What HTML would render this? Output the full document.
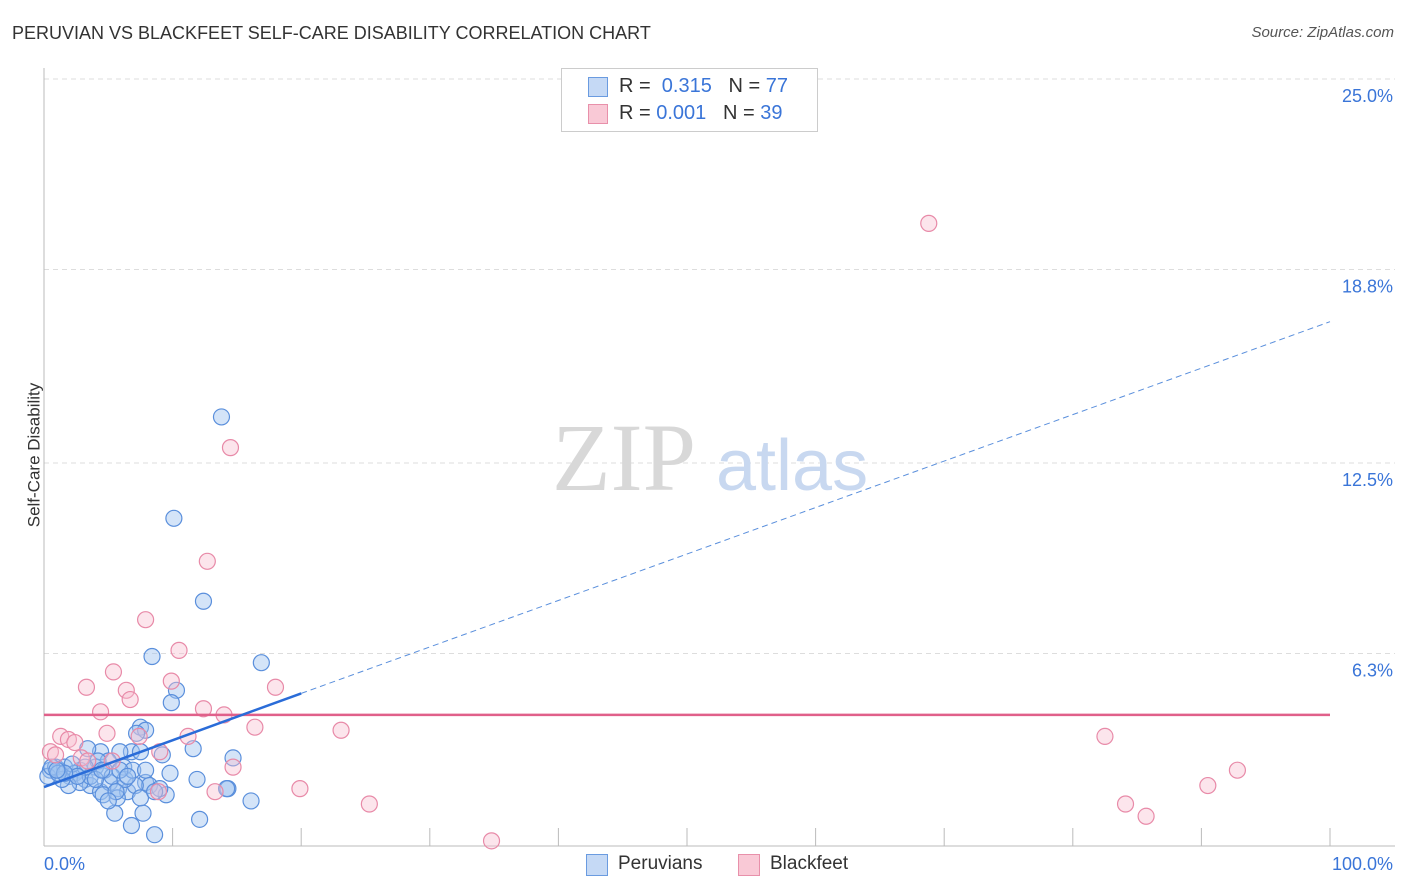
<!DOCTYPE html>
<html><head><meta charset="utf-8"><style>
body{margin:0;background:#fff;font-family:"Liberation Sans",sans-serif;}
#wrap{position:relative;width:1406px;height:892px;overflow:hidden}
.t{position:absolute;white-space:nowrap}
</style></head><body><div id="wrap">
<div class="t" style="left:12px;top:23px;font-size:18px;color:#333">PERUVIAN VS BLACKFEET SELF-CARE DISABILITY CORRELATION CHART</div>
<div class="t" style="right:12px;top:24px;font-size:15px;color:#555;font-style:italic">Source: ZipAtlas.com</div>
<div class="t" style="left:-38px;top:445px;font-size:17px;color:#333;transform:rotate(-90deg)">Self-Care Disability</div>
<svg id="svg" width="1406" height="892" style="position:absolute;left:0;top:0"></svg>
<div style="position:absolute;left:561px;top:68px;width:255px;height:62px;border:1px solid #ccc;background:#fff;font-size:20px">
<div style="position:absolute;left:26px;top:8px;width:18px;height:18px;background:#c5d9f5;border:1px solid #6a9be0"></div>
<div class="t" style="left:57px;top:6px;color:#333">R = <span style="color:#3a75d8">&nbsp;0.315</span> &nbsp;&nbsp;N = <span style="color:#3a75d8">77</span></div>
<div style="position:absolute;left:26px;top:35px;width:18px;height:18px;background:#f9c9d6;border:1px solid #e890aa"></div>
<div class="t" style="left:57px;top:33px;color:#333">R = <span style="color:#3a75d8">0.001</span> &nbsp;&nbsp;N = <span style="color:#3a75d8">39</span></div>
</div>
<div style="position:absolute;left:586px;top:852px;font-size:19px;color:#333">
<div style="position:absolute;left:0;top:2px;width:20px;height:20px;background:#c5d9f5;border:1px solid #6a9be0"></div>
<div class="t" style="left:32px;top:1px">Peruvians</div>
<div style="position:absolute;left:152px;top:2px;width:20px;height:20px;background:#f9c9d6;border:1px solid #e890aa"></div>
<div class="t" style="left:184px;top:1px">Blackfeet</div>
</div>
</div>
<script>
const yTicks=[25,18.8,12.5,6.3];
const yTickLabels=["25.0%","18.8%","12.5%","6.3%"];
const blueX=[13.8,10.1,12.4,8.4,16.9,10.3,9.9,7.5,7.9,7.2,11.6,9.2,6.8,14.7,9.8,11.9,14.3,14.2,16.1,9.5,7.9,8.2,9.0,12.1,7.7,6.8,5.5,8.6,6.2,5.9,4.4,3.4,5.0,4.0,2.8,2.0,1.2,0.5,0.9,1.6,2.4,3.2,3.6,4.4,5.1,5.8,6.5,7.1,4.6,5.7,7.5,8.6,4.2,4.7,5.3,2.8,1.9,3.6,6.3,6.9,1.4,0.3,0.6,2.2,5.6,5.0,4.0,3.2,2.6,1.1,1.6,4.5,5.9,6.5,7.9,1.0,7.5];
const blueY=[14.0,10.7,8.0,6.2,6.0,5.1,4.7,3.9,3.8,3.7,3.2,3.0,3.1,2.9,2.4,2.2,1.9,1.9,1.5,1.7,2.1,2.0,1.9,0.9,1.1,0.7,1.1,0.4,2.6,3.1,3.1,3.2,2.8,2.6,2.5,2.3,2.5,2.5,2.6,2.6,2.4,2.2,2.0,1.8,2.1,1.9,1.8,2.0,1.7,1.6,1.6,1.8,2.8,2.5,2.3,2.1,2.0,2.3,2.2,2.5,2.2,2.3,2.6,2.7,1.8,1.5,2.2,2.6,2.3,2.4,2.4,2.5,2.5,2.3,2.5,2.5,3.1];
const pinkX=[68.8,14.5,12.7,7.9,10.5,5.4,3.3,6.4,9.9,18.0,6.7,12.4,14.0,4.4,16.4,23.1,4.9,7.4,1.3,1.9,2.4,9.0,11.2,2.9,3.4,0.5,0.9,14.7,19.9,25.3,34.8,13.3,82.5,92.8,90.5,84.1,85.7,8.9,5.3];
const pinkY=[20.3,13.0,9.3,7.4,6.4,5.7,5.2,5.1,5.4,5.2,4.8,4.5,4.3,4.4,3.9,3.8,3.7,3.6,3.6,3.5,3.4,3.1,3.6,2.9,2.8,3.1,3.0,2.6,1.9,1.4,0.2,1.8,3.6,2.5,2.0,1.4,1.0,1.8,2.8];
const blueTrend=[[0,1.95],[20,5.0],[100,17.1]];
const pinkMean=4.3;
const X0=44,X1=1330,Y0=847,PPY=30.72;
const sx=v=>X0+(X1-X0)*v/100, sy=v=>Y0-v*PPY;
const svg=document.getElementById('svg');const NS='http://www.w3.org/2000/svg';
function mk(t,a,p){const e=document.createElementNS(NS,t);for(const k in a)e.setAttribute(k,a[k]);(p||svg).appendChild(e);return e;}
yTicks.forEach((v,i)=>{const l=mk('line',{x1:44,x2:1395,y1:sy(v),y2:sy(v),stroke:'#ddd','stroke-dasharray':'5,4'});


const t=mk('text',{x:1393,y:sy(v)+23,'text-anchor':'end','font-size':18,fill:'#3a75d8','font-family':'Liberation Sans,sans-serif'});t.textContent=yTickLabels[i];

});
const ax=mk('line',{x1:44,x2:44,y1:68,y2:846,stroke:'#bbb'});


const bx=mk('line',{x1:44,x2:1395,y1:846,y2:846,stroke:'#bbb'});


for(let i=0;i<=10;i++){const l=mk('line',{x1:sx(i*10),x2:sx(i*10),y1:828,y2:846,stroke:'#bbb'});

}
[['0.0%',44,'start'],['100.0%',1393,'end']].forEach(d=>{const t=mk('text',{x:d[1],y:870,'text-anchor':d[2],'font-size':18,fill:'#3a75d8','font-family':'Liberation Sans,sans-serif'});t.textContent=d[0];

});
const w1=mk('text',{x:552,y:490,'font-size':96,fill:'#d8d8d8','font-family':'Liberation Serif,serif'});w1.textContent='ZIP';


const w2=mk('text',{x:716,y:490,'font-size':72,fill:'#c8d8f0','font-family':'Liberation Sans,sans-serif'});w2.textContent='atlas';


blueX.forEach((x,i)=>{const c=mk('circle',{cx:sx(x),cy:sy(blueY[i]),r:8,fill:'rgba(160,195,240,0.45)',stroke:'#5a8fdc','stroke-width':1.2});

});
pinkX.forEach((x,i)=>{const c=mk('circle',{cx:sx(x),cy:sy(pinkY[i]),r:8,fill:'rgba(248,190,208,0.4)',stroke:'#e88aa8','stroke-width':1.2});

});
const pl=mk('line',{x1:sx(0),x2:sx(100),y1:sy(pinkMean),y2:sy(pinkMean),stroke:'#e0608a','stroke-width':2.5});


const b1=mk('line',{x1:sx(blueTrend[0][0]),y1:sy(blueTrend[0][1]),x2:sx(blueTrend[1][0]),y2:sy(blueTrend[1][1]),stroke:'#2a6cd8','stroke-width':2.5});


const b2=mk('line',{x1:sx(blueTrend[1][0]),y1:sy(blueTrend[1][1]),x2:sx(blueTrend[2][0]),y2:sy(blueTrend[2][1]),stroke:'#5a8fdc','stroke-width':1,'stroke-dasharray':'6,4'});


</script></body></html>
